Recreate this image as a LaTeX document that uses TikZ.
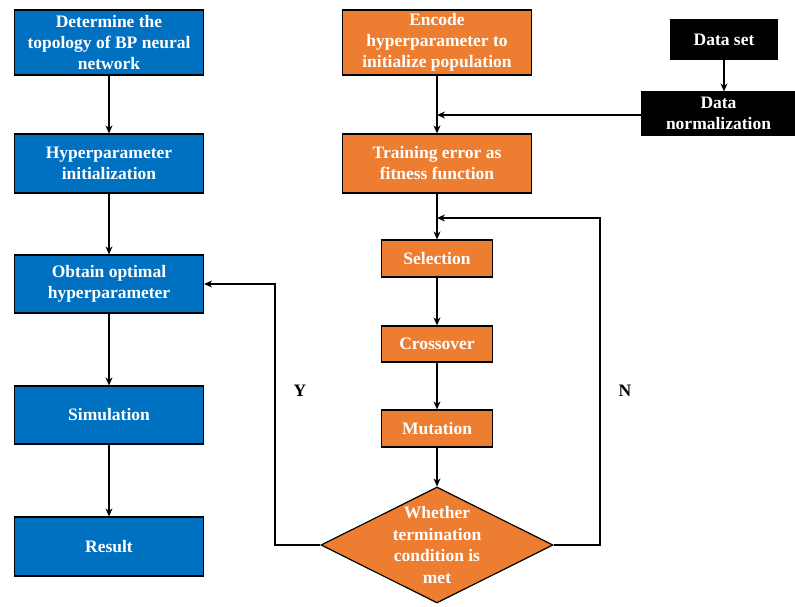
\documentclass[tikz,border=0pt]{standalone}
\usepackage{fontspec}
\setmainfont{Liberation Serif}
\usetikzlibrary{shapes.geometric,arrows.meta}
\definecolor{bpblue}{HTML}{0070C0}
\definecolor{gaorange}{HTML}{ED7D31}
\tikzset{
	box/.style={draw=black, line width=1.2pt, text=white, align=center, inner sep=0pt, font=\fontsize{17.5}{21}\selectfont\bfseries},
	bpbox/.style={box, fill=bpblue, minimum width=189pt},
	gabox/.style={box, fill=gaorange},
	databox/.style={box, fill=black},
	link/.style={line width=1.2pt, -{Stealth[length=8pt,width=7pt]}}
}

\begin{document}
\begin{tikzpicture}[x=1pt, y=-1pt]
		%%%%% START %%%%%
		\useasboundingbox (0, 0) rectangle (795, 606);
		
		\node[bpbox, minimum height=65pt] (topo) at (109, 42.5) {Determine the\\topology of BP neural\\network};
		\node[bpbox, minimum height=59pt] (hpinit) at (109, 163.5) {Hyperparameter\\initialization};
		\node[bpbox, minimum height=58pt] (optimal) at (109, 284) {Obtain optimal\\hyperparameter};
		\node[bpbox, minimum height=58pt] (simul) at (109, 415) {Simulation};
		\node[bpbox, minimum height=59pt] (result) at (109, 546.5) {Result};
		
		\node[gabox, minimum width=189pt, minimum height=65pt] (encode) at (437, 42.5) {Encode\\hyperparameter to\\initialize population};
		\node[gabox, minimum width=189pt, minimum height=59pt] (fitness) at (437, 163.5) {Training error as\\fitness function};
		
		\node[databox, minimum width=106pt, minimum height=39pt] (dataset) at (724, 39.5) {Data set};
		\node[databox, minimum width=153pt, minimum height=43pt] (norm) at (718.5, 113.5) {Data\\normalization};
		
		\node[gabox, minimum width=111pt, minimum height=37pt] (select) at (437, 258.5) {Selection};
		\node[gabox, minimum width=111pt, minimum height=36pt] (cross) at (437, 344) {Crossover};
		\node[gabox, minimum width=111pt, minimum height=37pt] (mutate) at (437, 428.5) {Mutation};
		\node[gabox, diamond, inner sep=-14pt, minimum width=232pt, minimum height=116pt, font=\fontsize{17.5}{21.5}\selectfont\bfseries] (stop) at (437, 545) {Whether\\termination\\condition is\\met};
		
		\coordinate (merge) at (437, 115);
		\coordinate (nloop) at (437, 218);
		
		% left column
		\draw[link] (topo) -- (hpinit);
		\draw[link] (hpinit) -- (optimal);
		\draw[link] (optimal) -- (simul);
		\draw[link] (simul) -- (result);
		
		% genetic algorithm
		\draw[link] (encode) -- (fitness);
		\draw[link] (dataset) -- (dataset |- norm.north);
		\draw[link] (norm.west |- merge) -- (merge);
		\draw[link] (fitness) -- (select);
		\draw[link] (select) -- (cross);
		\draw[link] (cross) -- (mutate);
		\draw[link] (mutate) -- (stop);
		
		% loops
		\draw[link] (stop.west) -- (275, 545) |- (optimal.east);
		\draw[link] (stop.east) -- (600, 545) |- (nloop);
		
		\node[font=\fontsize{17.5}{21}\selectfont\bfseries] (yes) at (300, 391) {Y};
		\node[font=\fontsize{17.5}{21}\selectfont\bfseries] (no) at (625, 391) {N};
		%%%%% END %%%%%
	\end{tikzpicture}
\end{document}
